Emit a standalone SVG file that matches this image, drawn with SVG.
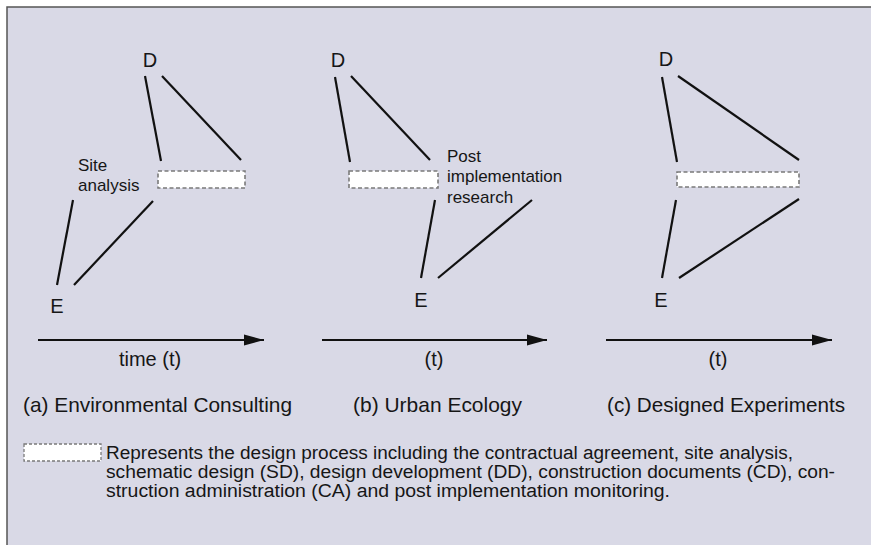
<svg xmlns="http://www.w3.org/2000/svg" width="871" height="545" viewBox="0 0 871 545">
<style>
text{font-family:"Liberation Sans",Arial,sans-serif;fill:#161616}
.node{font-size:20px;text-anchor:middle}
.lbl{font-size:17px}
.axis{font-size:20px;text-anchor:middle}
.cap{font-size:21px}
.leg{font-size:18px}
.box{fill:#fff;stroke:#7a7a7a;stroke-width:1.6;stroke-dasharray:4 2.5}
.ln{stroke:#111;stroke-width:2.2;fill:none;stroke-linecap:butt}
.arr{stroke:#111;stroke-width:2.2;fill:none;marker-end:url(#ah)}
</style>
<defs>
<marker id="ah" markerUnits="userSpaceOnUse" markerWidth="22" markerHeight="12" refX="20" refY="6" orient="auto">
<path d="M0,0.5 L20,6 L0,11.5 Z" fill="#111"/>
</marker>
</defs>
<rect x="0" y="0" width="871" height="545" fill="#fff"/>
<rect x="7" y="7" width="875" height="550" fill="#d9d9e6" stroke="#555" stroke-width="1.5"/>

<g id="panel-a">
<g id="a-D"><text class="node" x="150" y="67">D</text></g>
<g id="a-E"><text class="node" x="57" y="313">E</text></g>
<g id="a-process"><rect class="box" x="158" y="171" width="87" height="17"/></g>
<g id="a-label"><text class="lbl" x="78" y="171">Site</text><text class="lbl" x="78" y="191">analysis</text></g>
</g>

<g id="panel-b">
<g id="b-D"><text class="node" x="338" y="67">D</text></g>
<g id="b-E"><text class="node" x="421" y="307">E</text></g>
<g id="b-process"><rect class="box" x="349" y="171" width="89" height="17"/></g>
<g id="b-label"><text class="lbl" x="447" y="162">Post</text><text class="lbl" x="447" y="182">implementation</text><text class="lbl" x="447" y="203">research</text></g>
</g>

<g id="panel-c">
<g id="c-D"><text class="node" x="666" y="66">D</text></g>
<g id="c-E"><text class="node" x="661" y="307">E</text></g>
<g id="c-process"><rect class="box" x="677" y="172" width="122" height="15"/></g>
</g>

<g id="connectors">
<line class="ln" x1="145" y1="76" x2="161" y2="161"/>
<line class="ln" x1="162" y1="76" x2="241" y2="160"/>
<line class="ln" x1="73" y1="200" x2="57" y2="285"/>
<line class="ln" x1="153" y1="201" x2="74" y2="285"/>

<line class="ln" x1="335" y1="77" x2="350" y2="162"/>
<line class="ln" x1="351" y1="76" x2="430" y2="160"/>
<line class="ln" x1="435" y1="200" x2="421" y2="278"/>
<line class="ln" x1="532" y1="200" x2="438" y2="278"/>

<line class="ln" x1="662" y1="77" x2="677" y2="162"/>
<line class="ln" x1="678" y1="76" x2="799" y2="160"/>
<line class="ln" x1="676" y1="200" x2="662" y2="278"/>
<line class="ln" x1="799" y1="199" x2="679" y2="278"/>

<line class="arr" x1="38" y1="340" x2="264" y2="340"/>
<line class="arr" x1="322" y1="340" x2="547" y2="340"/>
<line class="arr" x1="606" y1="340" x2="832" y2="340"/>
</g>

<g id="axis-labels">
<text class="axis" x="150" y="366">time (t)</text>
<text class="axis" x="434" y="366">(t)</text>
<text class="axis" x="718" y="366">(t)</text>
</g>

<g id="captions">
<text class="cap" x="23" y="412" textLength="269" lengthAdjust="spacingAndGlyphs">(a) Environmental Consulting</text>
<text class="cap" x="353" y="412" textLength="169" lengthAdjust="spacingAndGlyphs">(b) Urban Ecology</text>
<text class="cap" x="607" y="412" textLength="238" lengthAdjust="spacingAndGlyphs">(c) Designed Experiments</text>
</g>

<g id="legend">
<rect class="box" x="24" y="444" width="77" height="17" style="stroke-dasharray:3 2;stroke-width:1.3"/>
<text class="leg" x="106" y="459" textLength="687" lengthAdjust="spacingAndGlyphs">Represents the design process including the contractual agreement, site analysis,</text>
<text class="leg" x="106" y="478" textLength="729" lengthAdjust="spacingAndGlyphs">schematic design (SD), design development (DD), construction documents (CD), con-</text>
<text class="leg" x="106" y="497" textLength="564" lengthAdjust="spacingAndGlyphs">struction administration (CA) and post implementation monitoring.</text>
</g>
</svg>
